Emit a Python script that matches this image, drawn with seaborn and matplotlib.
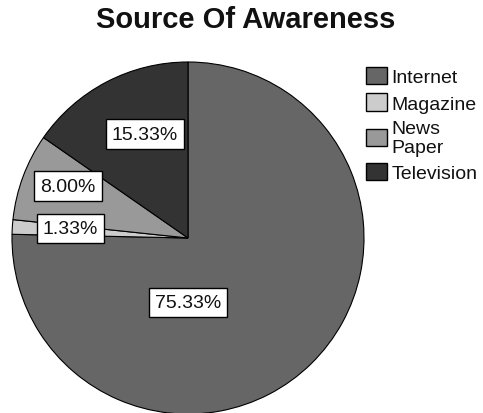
import matplotlib
matplotlib.use("Agg")
import matplotlib.pyplot as plt
import seaborn as sns
import numpy as np

sns.set_theme(style="white")
plt.rcParams["font.family"] = ["Liberation Sans", "DejaVu Sans"]

# Survey shares by source of awareness
categories = ["Internet", "Magazine", "News\nPaper", "Television"]
shares = [75.33, 1.33, 8.00, 15.33]
value_labels = ["75.33%", "1.33%", "8.00%", "15.33%"]
colors = ["#666666", "#cccccc", "#999999", "#333333"]

fig = plt.figure(figsize=(4.83, 4.14), dpi=100)
ax = fig.add_axes([12 / 483, -1 / 414, 352 / 483, 352 / 414])

wedges, _ = ax.pie(
    shares,
    colors=colors,
    startangle=90,
    counterclock=False,
    radius=1.0,
    wedgeprops=dict(edgecolor="black", linewidth=0.8),
)

# Label placement: (radius, angle offset from slice mid-angle) per slice
label_pos = [(0.366, None), (0.67, -1.0), (0.743, -3.0), (0.639, -5.1)]
for w, lab, (r, off) in zip(wedges, value_labels, label_pos):
    if off is None:
        ang = -90.0
    else:
        ang = (w.theta1 + w.theta2) / 2 + off
    x = r * np.cos(np.radians(ang))
    y = r * np.sin(np.radians(ang))
    ax.text(x, y, lab, ha="center", va="center", fontsize=14, color="#111111",
            bbox=dict(boxstyle="square,pad=0.32", fc="white", ec="black", lw=1.0))

ax.set_xlim(-1, 1)
ax.set_ylim(-1, 1)
ax.set_aspect("equal")
ax.axis("off")

fig.text(0.509, 0.952, "Source Of Awareness", ha="center", va="center",
         fontsize=21, fontweight="bold", color="#111111")

leg = fig.legend(wedges, categories, loc="upper left", bbox_to_anchor=(366 / 483, 1 - 68 / 414),
                 frameon=False, fontsize=14, handlelength=1.1, handleheight=1.0,
                 handletextpad=0.2, labelspacing=0.36, borderaxespad=0, borderpad=0)
for h in leg.legend_handles:
    h.set_edgecolor("black")
    h.set_linewidth(1.0)
for t in leg.get_texts():
    t.set_color("#111111")
    t.set_linespacing(1.15)

fig.savefig("out.png", dpi=100)
